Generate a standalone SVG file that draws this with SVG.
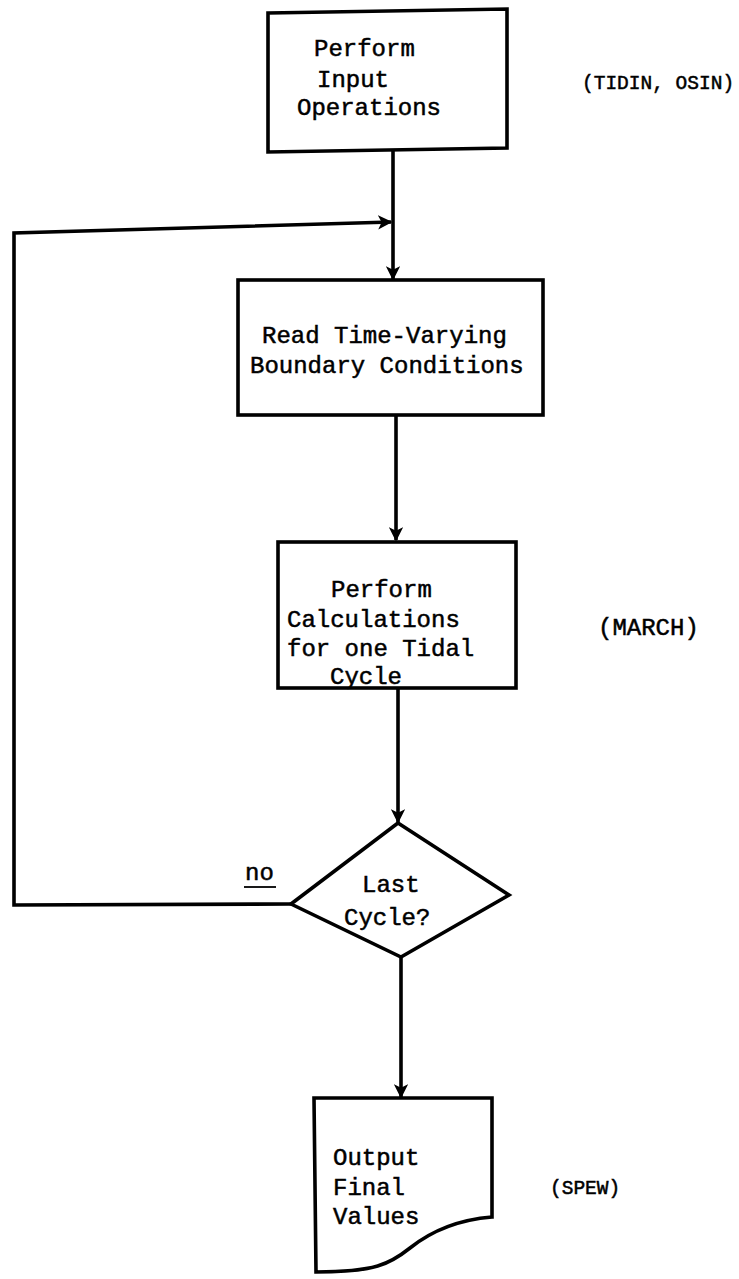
<svg xmlns="http://www.w3.org/2000/svg" width="739" height="1279" viewBox="0 0 739 1279">
<style>
.shape{fill:#fff;stroke:#000;stroke-width:3.6;stroke-linejoin:miter}
.line{fill:none;stroke:#000;stroke-width:3.6}
text{font-family:"Liberation Mono","Courier New",monospace;font-size:24px;fill:#000;stroke:#000;stroke-width:0.5}
.note{font-size:19.5px}
</style>
<defs>
<marker id="ah" viewBox="0 0 10 10" refX="9" refY="5" markerWidth="4" markerHeight="4" orient="auto" markerUnits="strokeWidth">
<path d="M0,0 L10,5 L0,10 L2.5,5 z" fill="#000"/>
</marker>
</defs>
<rect width="739" height="1279" fill="#fff"/>
<g id="connectors">
<line class="line" x1="393" y1="150" x2="393" y2="279" marker-end="url(#ah)"/>
<line class="line" x1="396" y1="414" x2="396" y2="540" marker-end="url(#ah)"/>
<line class="line" x1="398" y1="687" x2="398" y2="822" marker-end="url(#ah)"/>
<line class="line" x1="401" y1="957" x2="401" y2="1097" marker-end="url(#ah)"/>
<polyline class="line" points="291,904 14,905 14,233 391,222" marker-end="url(#ah)"/>
<text x="245" y="880">no</text>
<line x1="244" y1="887" x2="276" y2="887" stroke="#000" stroke-width="1.8"/>
</g>
<g id="input">
<path class="shape" d="M268,13 L507,9 L507,148 L268,152 Z"/>
<text x="314" y="56">Perform</text>
<text x="317" y="87">Input</text>
<text x="297" y="115">Operations</text>
<text class="note" x="582" y="89">(TIDIN, OSIN)</text>
</g>
<g id="read">
<rect class="shape" x="238" y="280" width="305" height="135"/>
<text x="262" y="343">Read Time-Varying</text>
<text x="250" y="373">Boundary Conditions</text>
</g>
<g id="calc">
<rect class="shape" x="278" y="542" width="238" height="146"/>
<text x="331" y="597">Perform</text>
<text x="287" y="627">Calculations</text>
<text x="287" y="656">for one Tidal</text>
<text x="330" y="684">Cycle</text>
<text x="598" y="635">(MARCH)</text>
</g>
<g id="decision">
<polygon class="shape" points="398,823 509,895 401,957 291,904"/>
<text x="362" y="892">Last</text>
<text x="344" y="925">Cycle?</text>
</g>
<g id="output">
<path class="shape" d="M314,1098 L492,1098 L492,1217 C455,1220 430,1232 410,1248 C390,1264 375,1272 316,1272 Z"/>
<text x="333" y="1165">Output</text>
<text x="333" y="1195">Final</text>
<text x="333" y="1224">Values</text>
<text class="note" x="550" y="1194">(SPEW)</text>
</g>
</svg>
